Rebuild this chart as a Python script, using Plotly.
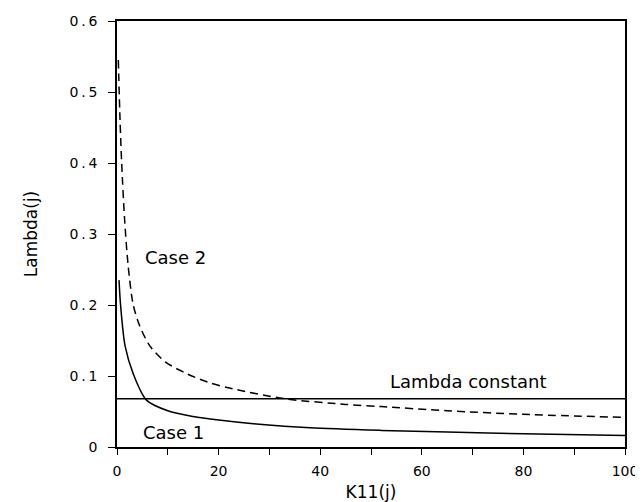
import plotly.graph_objects as go

# Data
case1_x = [0.4, 0.7, 1.6, 3.2, 5.8, 10, 15, 20, 28, 38, 52, 65, 80, 100]
case1_y = [0.235, 0.200, 0.142, 0.103, 0.066, 0.051, 0.043, 0.038, 0.032, 0.027, 0.0234, 0.021, 0.0185, 0.0163]

case2_x = [0.26, 0.6, 0.92, 1.5, 2.2, 3.2, 4.5, 6.5, 9.5, 13.8, 18, 22.8, 33, 45, 52, 65, 80, 100]
case2_y = [0.545, 0.46, 0.40, 0.32, 0.255, 0.200, 0.170, 0.142, 0.120, 0.103, 0.091, 0.082, 0.068, 0.060, 0.057, 0.051, 0.046, 0.0416]

lambda_const = 0.068
lambda_x = [0, 100]

labels = ["Case 2", "Case 1", "Lambda constant"]
label_x = [11.5, 11.2, 69]
label_y = [0.267, 0.021, 0.092]

x_tickvals = [0, 20, 40, 60, 80, 100]
y_tickvals = [0, 0.1, 0.2, 0.3, 0.4, 0.5, 0.6]
y_ticktext = ["0", "0\u2009.\u20091", "0\u2009.\u20092", "0\u2009.\u20093", "0\u2009.\u20094", "0\u2009.\u20095", "0\u2009.\u20096"]

FONT = "DejaVu Sans, Arial, Helvetica, sans-serif"

fig = go.Figure()
fig.add_trace(go.Scatter(x=case2_x, y=case2_y, mode="lines",
                         line=dict(color="black", width=1.5, dash="8px,5px", shape="spline", smoothing=0.8),
                         showlegend=False))
fig.add_trace(go.Scatter(x=case1_x, y=case1_y, mode="lines",
                         line=dict(color="black", width=1.5, shape="spline", smoothing=0.8),
                         showlegend=False))
fig.add_trace(go.Scatter(x=lambda_x, y=[lambda_const] * len(lambda_x), mode="lines",
                         line=dict(color="black", width=1.5), showlegend=False))

for t, x, y in zip(labels, label_x, label_y):
    fig.add_annotation(x=x, y=y, text=t, showarrow=False, xanchor="center", yanchor="middle",
                       font=dict(family=FONT, size=18, color="black"))

# page body has an 8px default margin, so the figure is sized to fit the window
fig.update_layout(
    width=635, height=494,
    margin=dict(l=109, r=18, t=13, b=55),
    plot_bgcolor="white", paper_bgcolor="white",
    font=dict(family=FONT, color="black"),
)
fig.update_xaxes(
    range=[0, 100], tickvals=x_tickvals, ticks="outside", ticklen=6, tickwidth=1, tickcolor="black",
    minor=dict(dtick=10, ticks="outside", ticklen=6, tickcolor="black", tickwidth=1),
    showline=True, linecolor="black", linewidth=1.5, mirror=True, showgrid=False, zeroline=False,
    automargin=False, ticklabelstandoff=4,
    tickfont=dict(family=FONT, size=14, color="black"),
    title=dict(text="K11(j)", font=dict(family=FONT, size=17, color="black"), standoff=14),
)
fig.update_yaxes(
    range=[0, 0.6], tickvals=y_tickvals, ticktext=y_ticktext, ticks="outside", ticklen=7, tickwidth=1,
    tickcolor="black", ticklabelstandoff=8, automargin=False,
    showline=True, linecolor="black", linewidth=1.5, mirror=True, showgrid=False, zeroline=False,
    tickfont=dict(family=FONT, size=14, color="black"),
    title=dict(text="Lambda(j)", font=dict(family=FONT, size=17, color="black"), standoff=28),
)

fig.write_html("out.html")
